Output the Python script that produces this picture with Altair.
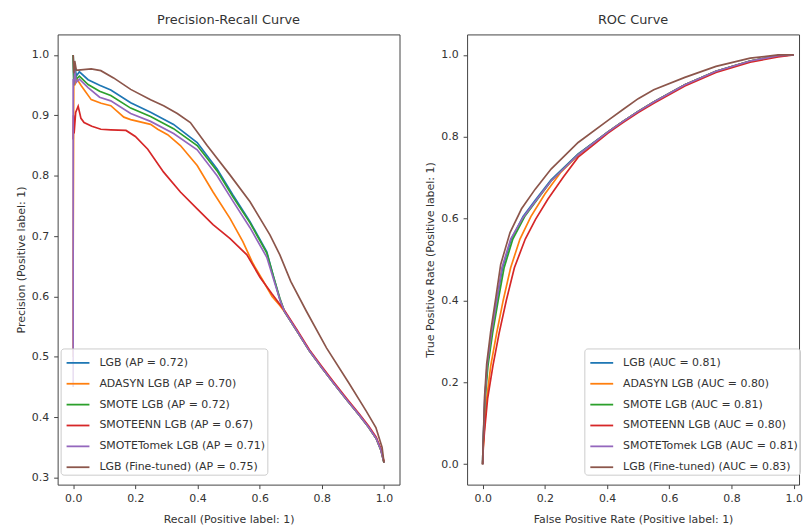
import altair as alt
import pandas as pd

# ---------------- labels / colours ----------------
models = ["LGB", "ADASYN LGB", "SMOTE LGB", "SMOTEENN LGB", "SMOTETomek LGB", "LGB (Fine-tuned)"]
ap_values = ["0.72", "0.70", "0.72", "0.67", "0.71", "0.75"]
auc_values = ["0.81", "0.80", "0.81", "0.80", "0.81", "0.83"]
colors = ["#1f77b4", "#ff7f0e", "#2ca02c", "#d62728", "#9467bd", "#8c564b"]

pr_labels = [f"{m} (AP = {v})" for m, v in zip(models, ap_values)]
roc_labels = [f"{m} (AUC = {v})" for m, v in zip(models, auc_values)]

tick_values_01 = [0.0, 0.2, 0.4, 0.6, 0.8, 1.0]
pr_precision_ticks = [0.3, 0.4, 0.5, 0.6, 0.7, 0.8, 0.9, 1.0]

# ---------------- Precision-Recall curves ----------------
pr_tail_recall = [0.68, 0.72, 0.76, 0.80, 0.84, 0.88, 0.92, 0.95, 0.975, 0.99, 1.0]
pr_tail_precision = [0.575, 0.543, 0.510, 0.482, 0.455, 0.429, 0.404, 0.384, 0.365, 0.346, 0.325]

lgb_recall = [0, 0.002, 0.005, 0.01, 0.02, 0.048, 0.085, 0.121, 0.185, 0.249, 0.323, 0.399,
              0.463, 0.514, 0.569, 0.623, 0.645, 0.665]
lgb_precision = [1.0, 0.96, 0.985, 0.965, 0.972, 0.959, 0.95, 0.942, 0.921, 0.905, 0.885, 0.855,
                 0.811, 0.768, 0.724, 0.674, 0.632, 0.595]

adasyn_recall = [0, 0, 0.002, 0.005, 0.012, 0.026, 0.058, 0.09, 0.121, 0.163, 0.185, 0.249, 0.272,
                 0.304, 0.345, 0.399, 0.45, 0.505, 0.546, 0.578, 0.61, 0.64, 0.665]
adasyn_precision = [0.5, 0.67, 0.97, 0.95, 0.96, 0.949, 0.926, 0.92, 0.916, 0.897, 0.893, 0.885, 0.877,
                    0.868, 0.85, 0.817, 0.773, 0.729, 0.691, 0.655, 0.627, 0.60, 0.585]

smote_recall = [0, 0.002, 0.005, 0.01, 0.02, 0.048, 0.085, 0.121, 0.185, 0.249, 0.323, 0.399,
                0.463, 0.514, 0.569, 0.623, 0.645, 0.665]
smote_precision = [1.0, 0.95, 0.975, 0.96, 0.965, 0.951, 0.94, 0.933, 0.912, 0.898, 0.878, 0.85,
                   0.808, 0.765, 0.722, 0.672, 0.632, 0.597]

smoteenn_recall = [0, 0.001, 0.003, 0.008, 0.016, 0.025, 0.035, 0.06, 0.089, 0.121, 0.17, 0.2, 0.24,
                   0.291, 0.345, 0.399, 0.45, 0.505, 0.559, 0.601, 0.64]
smoteenn_precision = [0.86, 0.9, 0.87, 0.905, 0.915, 0.895, 0.888, 0.882, 0.877, 0.876, 0.875, 0.865, 0.844,
                      0.806, 0.773, 0.745, 0.719, 0.696, 0.669, 0.632, 0.604]

smotetomek_recall = [0, 0, 0.002, 0.005, 0.01, 0.02, 0.048, 0.085, 0.121, 0.185, 0.249, 0.323, 0.399,
                     0.463, 0.514, 0.569, 0.623, 0.645, 0.665]
smotetomek_precision = [0.45, 0.96, 0.95, 0.975, 0.955, 0.96, 0.946, 0.93, 0.924, 0.903, 0.89, 0.87, 0.843,
                        0.80, 0.758, 0.714, 0.665, 0.628, 0.595]

tuned_recall = [0, 0.002, 0.005, 0.01, 0.016, 0.058, 0.089, 0.13, 0.185, 0.249, 0.291, 0.335, 0.377,
                0.431, 0.505, 0.569, 0.633, 0.665, 0.70, 0.75, 0.815, 0.888, 0.942, 0.974, 0.994, 1.0]
tuned_precision = [1.0, 0.97, 0.99, 0.975, 0.975, 0.977, 0.974, 0.962, 0.943, 0.926, 0.916, 0.903, 0.888,
                   0.850, 0.801, 0.757, 0.702, 0.669, 0.625, 0.576, 0.515, 0.456, 0.411, 0.383, 0.35, 0.325]

# ---------------- ROC curves ----------------
roc_tail_fpr = [0.403, 0.45, 0.5, 0.55, 0.65, 0.75, 0.86, 0.95, 1.0]
roc_tail_tpr = [0.812, 0.837, 0.862, 0.885, 0.927, 0.96, 0.985, 0.998, 1.0]

lgb_fpr = [0, 0.001, 0.003, 0.007, 0.015, 0.029, 0.046, 0.064, 0.092, 0.13, 0.169, 0.22, 0.307]
lgb_tpr = [0, 0.04, 0.08, 0.16, 0.24, 0.32, 0.40, 0.48, 0.55, 0.605, 0.645, 0.695, 0.758]

adasyn_fpr = [0, 0.002, 0.005, 0.013, 0.026, 0.045, 0.066, 0.09, 0.12, 0.155, 0.2, 0.25, 0.307]
adasyn_tpr = [0, 0.04, 0.08, 0.16, 0.24, 0.32, 0.40, 0.48, 0.55, 0.605, 0.66, 0.712, 0.755]

smote_fpr = [0, 0.001, 0.0035, 0.008, 0.017, 0.032, 0.05, 0.069, 0.097, 0.135, 0.169, 0.22, 0.307]
smote_tpr = [0, 0.04, 0.08, 0.16, 0.24, 0.32, 0.40, 0.48, 0.55, 0.605, 0.64, 0.692, 0.757]

smoteenn_fpr = [0, 0.002, 0.006, 0.016, 0.033, 0.053, 0.076, 0.102, 0.137, 0.17, 0.21, 0.26, 0.307]
smoteenn_tpr = [0, 0.04, 0.08, 0.16, 0.24, 0.32, 0.40, 0.48, 0.55, 0.598, 0.648, 0.702, 0.750]

smotetomek_fpr = [0, 0.001, 0.003, 0.007, 0.014, 0.028, 0.045, 0.062, 0.09, 0.13, 0.169, 0.22, 0.307]
smotetomek_tpr = [0, 0.04, 0.08, 0.16, 0.24, 0.32, 0.40, 0.48, 0.55, 0.603, 0.642, 0.692, 0.756]

tuned_fpr = [0, 0.001, 0.003, 0.006, 0.013, 0.026, 0.042, 0.058, 0.088, 0.125, 0.169, 0.22, 0.307,
             0.403, 0.45, 0.5, 0.55, 0.65, 0.75, 0.86, 0.95, 1.0]
tuned_tpr = [0, 0.04, 0.083, 0.163, 0.245, 0.325, 0.405, 0.488, 0.566, 0.624, 0.672, 0.721, 0.786,
             0.840, 0.866, 0.893, 0.915, 0.945, 0.972, 0.992, 1.0, 1.0]

# ---------------- build tables ----------------
pr_series = [
    (lgb_recall + pr_tail_recall, lgb_precision + pr_tail_precision),
    (adasyn_recall + pr_tail_recall, adasyn_precision + pr_tail_precision),
    (smote_recall + pr_tail_recall, smote_precision + pr_tail_precision),
    (smoteenn_recall + pr_tail_recall, smoteenn_precision + [p + 0.002 for p in pr_tail_precision]),
    (smotetomek_recall + pr_tail_recall, smotetomek_precision + pr_tail_precision),
    (tuned_recall, tuned_precision),
]
roc_series = [
    (lgb_fpr + roc_tail_fpr, lgb_tpr + roc_tail_tpr),
    (adasyn_fpr + roc_tail_fpr, adasyn_tpr + roc_tail_tpr),
    (smote_fpr + roc_tail_fpr, smote_tpr + roc_tail_tpr),
    (smoteenn_fpr + roc_tail_fpr, smoteenn_tpr + [t - 0.003 if t < 1 else t for t in roc_tail_tpr]),
    (smotetomek_fpr + roc_tail_fpr, smotetomek_tpr + roc_tail_tpr),
    (tuned_fpr, tuned_tpr),
]

pr_rows = []
for k, (xs, ys) in enumerate(pr_series):
    for i, (xv, yv) in enumerate(zip(xs, ys)):
        pr_rows.append({"series": pr_labels[k], "k": k, "i": i, "x": xv, "y": yv})
roc_rows = []
for k, (xs, ys) in enumerate(roc_series):
    for i, (xv, yv) in enumerate(zip(xs, ys)):
        roc_rows.append({"series": roc_labels[k], "k": k, "i": i, "x": xv, "y": yv})

pr_df = pd.DataFrame(pr_rows)
roc_df = pd.DataFrame(roc_rows)

FONT = "DejaVu Sans"
TXT = "#333333"


def axis(title, values, title_pad, label_pad):
    return alt.Axis(
        title=title, values=values, format=".1f", grid=False, domain=False,
        tickSize=4, tickColor="#444444", tickWidth=1,
        labelFont=FONT, labelFontSize=11, labelColor=TXT, labelPadding=label_pad,
        titleFont=FONT, titleFontSize=11, titleFontWeight="normal", titleColor=TXT,
        titlePadding=title_pad,
    )


def legend(lx, ly):
    return alt.Legend(
        title=None, orient="none", legendX=lx, legendY=ly,
        symbolType="stroke", symbolSize=529, symbolStrokeWidth=1.8,
        labelFont=FONT, labelFontSize=11, labelColor=TXT, labelOffset=9, labelLimit=400,
        symbolOffset=3, rowPadding=3, padding=2,
        fillColor="rgba(255,255,255,0.8)", strokeColor="#cccccc", cornerRadius=3,
    )


pr_chart = alt.Chart(pr_df).mark_line(strokeWidth=1.7, clip=True).encode(
    x=alt.X("x:Q", scale=alt.Scale(domain=[-0.05, 1.05], nice=False, zero=False),
            axis=axis("Recall (Positive label: 1)", tick_values_01, 10, 4)),
    y=alt.Y("y:Q", scale=alt.Scale(domain=[0.2885, 1.034], nice=False, zero=False),
            axis=axis("Precision (Positive label: 1)", pr_precision_ticks, 5, 5)),
    color=alt.Color("series:N", sort=pr_labels,
                    scale=alt.Scale(domain=pr_labels, range=colors),
                    legend=legend(3, 316)),
    detail="k:N",
    order=alt.Order("i:Q"),
).properties(
    width=344, height=453,
    title=alt.TitleParams("Precision-Recall Curve", font=FONT, fontSize=13, fontWeight="normal",
                          color=TXT, offset=7, anchor="middle"),
)

roc_chart = alt.Chart(roc_df).mark_line(strokeWidth=1.7, clip=True).encode(
    x=alt.X("x:Q", scale=alt.Scale(domain=[-0.05, 1.017], nice=False, zero=False),
            axis=axis("False Positive Rate (Positive label: 1)", tick_values_01, 10, 4)),
    y=alt.Y("y:Q", scale=alt.Scale(domain=[-0.05, 1.05], nice=False, zero=False),
            axis=axis("True Positive Rate (Positive label: 1)", tick_values_01, 5, 5)),
    color=alt.Color("series:N", sort=roc_labels,
                    scale=alt.Scale(domain=roc_labels, range=colors),
                    legend=legend(118, 316)),
    detail="k:N",
    order=alt.Order("i:Q"),
).properties(
    width=334, height=453,
    title=alt.TitleParams("ROC Curve", font=FONT, fontSize=13, fontWeight="normal",
                          color=TXT, offset=7, anchor="middle"),
)

chart = alt.hconcat(pr_chart, roc_chart, spacing=68, bounds="flush").resolve_scale(
    color="independent"
).resolve_legend(color="independent").properties(
    padding={"left": 15, "top": 12, "right": 0, "bottom": 0},
    background="white",
).configure_view(stroke="#444444", strokeWidth=1)

chart.save("out.html", embed_options={"renderer": "svg", "actions": False})
